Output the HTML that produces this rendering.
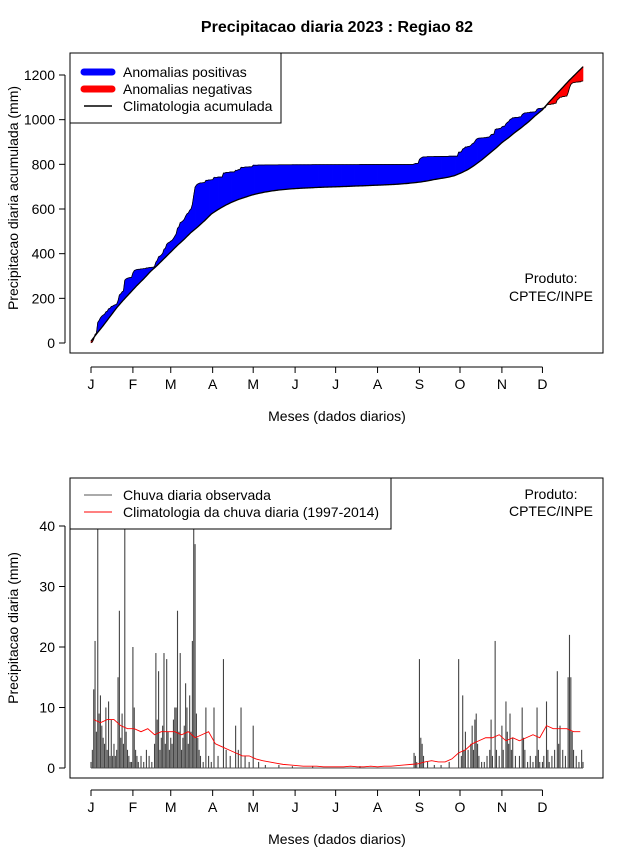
<!DOCTYPE html>
<html><head><meta charset="utf-8"><style>
body{margin:0;background:#fff}
svg{font-family:"Liberation Sans",Arial,sans-serif}
</style></head><body>
<svg id="c" width="640" height="850" xmlns="http://www.w3.org/2000/svg"></svg>
<script>
const months=["J","F","M","A","M","J","J","A","S","O","N","D"];
const monthStartDays=[1,32,60,91,121,152,182,213,244,274,305,335];
const topTicks=[0,200,400,600,800,1000,1200];
const botTicks=[0,10,20,30,40];
const climPentad=[8,7.5,8,8,7,6.5, 6.5,6,6.5,5.5,6,6, 6,5.5,6,5,5.5,6, 4,3.5,3,2.5,2,2, 1.5,1.2,1,0.8,0.6,0.5, 0.4,0.3,0.3,0.3,0.2,0.2, 0.2,0.2,0.3,0.2,0.2,0.3, 0.2,0.3,0.3,0.4,0.5,0.6, 0.7,1,1.2,1,1,1.5, 2.5,3,4,4.5,5,5,5.5, 4.5,5,4.5,5,5.5,5, 7,6.5,6.5,6.5,6,6];
const rainDays=[1,2,3,4,5,6,7,8,9,10,11,12,13,14,15,16,17,18,19,20,21,22,23,24,25,26,27,28,29,30,31,
32,33,34,35,36,38,40,42,44,46,48,49,50,51,52,53,54,55,56,57,58,59,
60,61,62,63,64,65,66,67,68,69,70,71,72,73,74,75,76,77,78,79,80,81,82,84,86,88,90,
92,95,99,101,104,108,110,112,115,118,121,125,130,140,150,165,200,
240,241,242,244,245,246,247,250,255,260,266,
273,275,276,277,278,280,282,283,284,285,286,287,288,290,292,294,296,297,298,300,301,303,
305,306,308,309,310,311,312,313,315,318,320,321,322,324,326,328,330,331,332,333,
335,336,338,339,340,342,344,346,347,348,350,352,354,355,356,357,358,360,362,364,365];
const rainVals=[1,3,13,21,6,48,9,12,7,5,4,10,3,11,2,8,2,4,2,3,15,26,5,9,4,48,6,3,2,1,1,
20,10,3,2,1,2,1,3,2,1,4,19,8,16,3,5,7,19,4,18,6,3,
5,4,8,10,10,26,6,19,3,5,7,14,10,4,12,6,21,40,37,9,5,3,2,1,10,2,1,
10,2,18,3,2,7,3,10,2,1,7,1,0.5,0.5,0.3,0.3,0.3,
2.5,2,1,18,5,4,2,1,0.5,0.5,1,
18,2,12,3,6,3,4,7,3,8,9,4,2,1,1,2,3,8,2,21,3,2,
7,3,11,6,4,9,3,5,2,2,10,5,3,1,2,1,2,10,3,1,
1,2,11,3,1,2,3,16,4,7,3,2,15,22,15,6,3,2,1,3,1];

const NS="http://www.w3.org/2000/svg";
const svg=document.getElementById('c');
function mk(tag,attrs,parent){const e=document.createElementNS(NS,tag);for(const k in attrs)e.setAttribute(k,attrs[k]);(parent||svg).appendChild(e);return e;}
const xDay=d=>91+(d-1)*(492/364);
const yTop=v=>343-v*(268/1200);
const yBot=v=>768-v*(242/40);

const obs=new Array(366).fill(0);
rainDays.forEach((d,i)=>{obs[d]=rainVals[i];});
const clim=new Array(366).fill(0);
for(let d=1;d<=365;d++)clim[d]=climPentad[Math.min(72,Math.floor((d-1)/5))];
const cumO=[0],cumC=[0];
for(let d=1;d<=365;d++){cumO[d]=cumO[d-1]+obs[d];cumC[d]=cumC[d-1]+clim[d];}

let t=mk('text',{x:337,y:32,'text-anchor':'middle','font-size':16,'font-weight':'bold'});t.textContent='Precipitacao diaria 2023 : Regiao 82';


function axes(prefix,yfun,ticks,boxY,boxH,axisY,ylabel,ylabCy){
  const g=mk('g',{});
  
  mk('rect',{x:70,y:boxY,width:533,height:boxH,fill:'none',stroke:'#000','stroke-width':1},g);
  mk('line',{x1:65,x2:65,y1:yfun(ticks[0]),y2:yfun(ticks[ticks.length-1]),stroke:'#000'},g);
  ticks.forEach(v=>{const y=yfun(v);mk('line',{x1:59,x2:65,y1:y,y2:y,stroke:'#000'},g);
    const tt=mk('text',{x:55,y:y+5,'text-anchor':'end','font-size':14},g);tt.textContent=v;});
  mk('line',{x1:xDay(1),x2:xDay(monthStartDays[11]),y1:axisY,y2:axisY,stroke:'#000'},g);
  monthStartDays.forEach((d,i)=>{const x=xDay(d);mk('line',{x1:x,x2:x,y1:axisY,y2:axisY+6,stroke:'#000'},g);
    const tt=mk('text',{x:x,y:axisY+22,'text-anchor':'middle','font-size':14},g);tt.textContent=months[i];});
  const xl=mk('text',{x:337,y:axisY+54,'text-anchor':'middle','font-size':14},g);xl.textContent='Meses (dados diarios)';
  const yl=mk('text',{x:0,y:0,'text-anchor':'middle','font-size':14,transform:`translate(18,${ylabCy}) rotate(-90)`},g);yl.textContent=ylabel;
}

const gT=mk('g',{});

for(let d=1;d<365;d++){
  const a=cumO[d]-cumC[d],b=cumO[d+1]-cumC[d+1];
  const col=(a+b)>=0?'#0000ff':'#ff0000';
  const p=mk('polygon',{points:`${xDay(d)},${yTop(cumO[d])} ${xDay(d+1)},${yTop(cumO[d+1])} ${xDay(d+1)},${yTop(cumC[d+1])} ${xDay(d)},${yTop(cumC[d])}`,fill:col,stroke:col,'stroke-width':0.6},gT);
  
}
let pts='';for(let d=1;d<=365;d++)pts+=`${xDay(d)},${yTop(cumO[d])} `;
const ol=mk('polyline',{points:pts,fill:'none',stroke:'#000','stroke-width':0.8},gT);

pts='';for(let d=1;d<=365;d++)pts+=`${xDay(d)},${yTop(cumC[d])} `;
const cl=mk('polyline',{points:pts,fill:'none',stroke:'#000','stroke-width':1.3},gT);

axes('top',yTop,topTicks,53,300,367,'Precipitacao diaria acumulada (mm)',198);
const lg1=mk('g',{});

mk('rect',{x:70,y:53,width:211,height:70,fill:'#fff',stroke:'#000'},lg1);
[['#0000ff',7,'Anomalias positivas'],['#ff0000',7,'Anomalias negativas'],['#000',1.5,'Climatologia acumulada']].forEach((r,i)=>{
  const y=72+i*17;
  mk('line',{x1:84,x2:112,y1:y,y2:y,stroke:r[0],'stroke-width':r[1],'stroke-linecap':r[1]>2?'round':'butt'},lg1);
  const tt=mk('text',{x:123,y:y+5,'font-size':14},lg1);tt.textContent=r[2];
  
});
t=mk('text',{x:551,y:283,'text-anchor':'middle','font-size':14});t.textContent='Produto:';

t=mk('text',{x:551,y:301,'text-anchor':'middle','font-size':14});t.textContent='CPTEC/INPE';


const gB=mk('g',{});

mk('line',{x1:xDay(1),x2:xDay(365),y1:yBot(0),y2:yBot(0),stroke:'#555'},gB);
for(let d=1;d<=365;d++){if(obs[d]<=0)continue;
  const b=mk('line',{x1:xDay(d),x2:xDay(d),y1:yBot(0),y2:Math.max(478,yBot(obs[d])),stroke:'#444','stroke-width':1.1},gB);
  }
pts='';for(let i=0;i<climPentad.length;i++){const d=Math.min(365,i*5+3);pts+=`${xDay(d)},${yBot(climPentad[i])} `;}
const rl=mk('polyline',{points:pts,fill:'none',stroke:'#ff0000','stroke-width':0.9},gB);

axes('bottom',yBot,botTicks,478,300,790,'Precipitacao diaria (mm)',628);
const lg2=mk('g',{});

mk('rect',{x:70,y:478,width:321,height:51,fill:'#fff',stroke:'#000'},lg2);
[['#555','Chuva diaria observada'],['#ff0000','Climatologia da chuva diaria (1997-2014)']].forEach((r,i)=>{
  const y=495+i*17;
  mk('line',{x1:84,x2:112,y1:y,y2:y,stroke:r[0],'stroke-width':1},lg2);
  const tt=mk('text',{x:123,y:y+5,'font-size':14},lg2);tt.textContent=r[1];
  
});
t=mk('text',{x:551,y:499,'text-anchor':'middle','font-size':14});t.textContent='Produto:';

t=mk('text',{x:551,y:516,'text-anchor':'middle','font-size':14});t.textContent='CPTEC/INPE';

</script>
</body></html>
